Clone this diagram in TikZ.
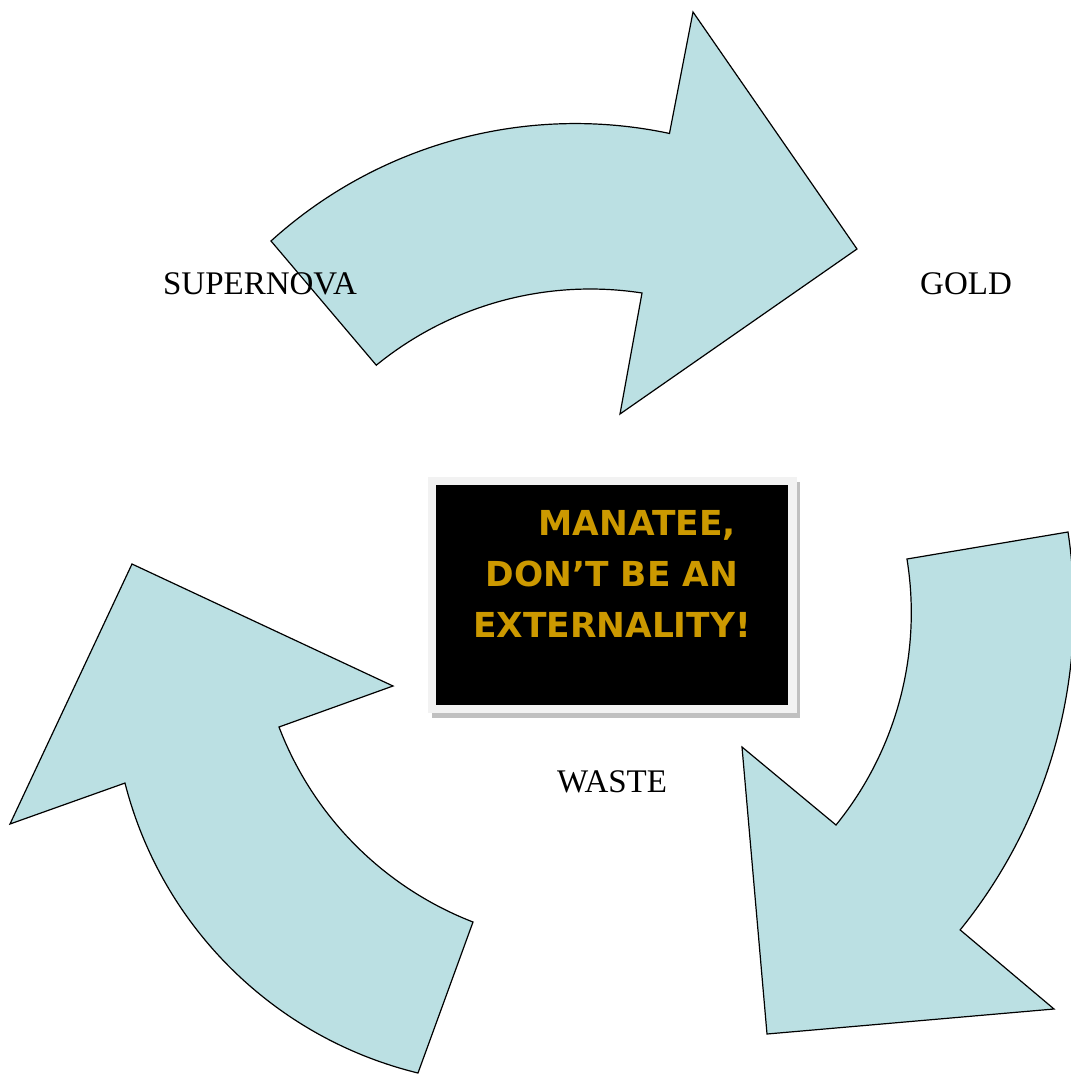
\documentclass[tikz,border=0pt]{standalone}
\usepackage{fontspec}
\setmainfont{Liberation Serif}
\newfontfamily\signfont{DejaVu Sans}
\usepackage{xcolor}
\usepackage{tikz}

\definecolor{arrowfill}{RGB}{187,224,227}
\definecolor{signgold}{RGB}{204,153,0}
\definecolor{framegray}{RGB}{242,242,242}
\definecolor{shadowgray}{RGB}{192,192,192}

\tikzset{
  cyclearrow/.style={fill=arrowfill, draw=black, line width=0.6pt, line join=miter},
  stagetext/.style={anchor=base, inner sep=0pt, font=\fontsize{16.5}{20}\selectfont},
  signtext/.style={inner sep=0pt, align=center, text=signgold,
    font=\signfont\bfseries\fontsize{17.2}{25.5}\selectfont}
}

\begin{document}
\begin{tikzpicture}[x=0.5pt, y=-0.5pt]
  \useasboundingbox (0,0) rectangle (1070,1075);

  % Top arrow (supernova to gold)
  \coordinate (t1) at (271,241);
  \coordinate (t3) at (693,12);
  \coordinate (t4) at (857,249);
  \coordinate (t5) at (620,414);
  \coordinate (t6) at (642,293);

  \draw [cyclearrow]
        (t1) arc[start angle=-132.2, end angle=-78, radius=453]
        -- (t3) -- (t4) -- (t5) -- (t6)
        arc[start angle=-81.2, end angle=-129.2, radius=338.5] -- cycle;

  % Right arrow (gold to waste)
  \coordinate (r1) at (1068,532);
  \coordinate (r3) at (1054,1009);
  \coordinate (r4) at (767,1034);
  \coordinate (r5) at (742,747);
  \coordinate (r6) at (836,825);

  \draw [cyclearrow]
        (r1) arc[start angle=-8.66, end angle=39, radius=510.2]
        -- (r3) -- (r4) -- (r5) -- (r6)
        arc[start angle=39.05, end angle=-9.17, radius=337] -- cycle;

  % Left arrow (waste to supernova)
  \coordinate (l1) at (132,564);
  \coordinate (l2) at (393,686);
  \coordinate (l3) at (279,727);
  \coordinate (l5) at (418,1073);
  \coordinate (l7) at (10,824);

  \draw [cyclearrow]
        (l1) -- (l2) -- (l3)
        arc[start angle=159.1, end angle=111.2, radius=338.8]
        -- (l5) arc[start angle=103.7, end angle=165.7, radius=400.2]
        -- (l7) -- cycle;

  % Sign in the middle
  \fill [shadowgray] (432,482) rectangle (800,718);
  \fill [framegray]  (428,477) rectangle (797,713);
  \fill [black]      (436,485) rectangle (788,705);
  \node[signtext] (sign) at (612,574)
    {\hspace*{25pt}MANATEE,\\DON’T BE AN\\EXTERNALITY!};

  % Stage labels
  \node[stagetext] (supernova) at (260,294) {SUPERNOVA};
  \node[stagetext] (gold)      at (966,294) {GOLD};
  \node[stagetext] (waste)     at (612,792) {WASTE};
\end{tikzpicture}
\end{document}
